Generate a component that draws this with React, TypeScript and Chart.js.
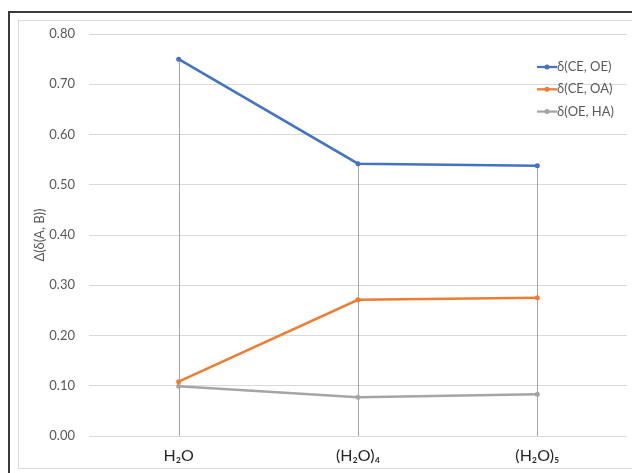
import React, { useEffect, useRef } from "react";
import { Chart, registerables } from "chart.js";

Chart.register(...registerables);

const categories = ["H\u2082O", "(H\u2082O)\u2084", "(H\u2082O)\u2085"];
const seriesNames = ["\u03b4(CE, OE)", "\u03b4(CE, OA)", "\u03b4(OE, HA)"];
const ceOe = [0.75, 0.542, 0.538];
const ceOa = [0.108, 0.271, 0.275];
const oeHa = [0.099, 0.077, 0.083];
const seriesColors = ["#4472C4", "#ED7D31", "#A5A5A5"];
const yTitle = "\u0394(\u03b4(A, B))";

const FONT = "Lato, 'Open Sans', sans-serif";

const framePlugin = {
  id: "frame",
  beforeDraw(chart: any) {
    const { ctx, width, height } = chart;
    ctx.save();
    ctx.fillStyle = "#ffffff";
    ctx.fillRect(0, 0, width, height);
    // outer dark border (left and top)
    ctx.strokeStyle = "#3a3a3a";
    ctx.lineWidth = 2;
    ctx.beginPath();
    ctx.moveTo(9, height);
    ctx.lineTo(9, 12);
    ctx.lineTo(width, 12);
    ctx.stroke();
    // light chart frame
    ctx.strokeStyle = "#d9d9d9";
    ctx.lineWidth = 1;
    ctx.strokeRect(18.5, 20.5, width + 10, 448);
    ctx.restore();
  },
};

const dropLinesPlugin = {
  id: "dropLines",
  beforeDatasetsDraw(chart: any) {
    const { ctx } = chart;
    const x = chart.scales.x;
    const y = chart.scales.y;
    ctx.save();
    ctx.strokeStyle = "#a6a6a6";
    ctx.lineWidth = 1;
    categories.forEach((_, i) => {
      const top = Math.max(ceOe[i], ceOa[i], oeHa[i]);
      const px = Math.round(x.getPixelForValue(i)) + 0.5;
      ctx.beginPath();
      ctx.moveTo(px, y.getPixelForValue(top));
      ctx.lineTo(px, y.getPixelForValue(0));
      ctx.stroke();
    });
    ctx.restore();
  },
};

const legendPlugin = {
  id: "sideLegend",
  afterDraw(chart: any) {
    const { ctx } = chart;
    ctx.save();
    ctx.font = `13px ${FONT}`;
    ctx.textBaseline = "middle";
    ctx.textAlign = "left";
    seriesNames.forEach((name, i) => {
      const cy = 67 + i * 22.3;
      ctx.strokeStyle = seriesColors[i];
      ctx.lineWidth = 2.25;
      ctx.beginPath();
      ctx.moveTo(537, cy);
      ctx.lineTo(557, cy);
      ctx.stroke();
      ctx.fillStyle = seriesColors[i];
      ctx.beginPath();
      ctx.arc(547, cy, 2.5, 0, Math.PI * 2);
      ctx.fill();
      ctx.fillStyle = "#595959";
      ctx.fillText(name, 557, cy);
    });
    ctx.restore();
  },
};

export default function App() {
  const ref = useRef<HTMLCanvasElement>(null);

  useEffect(() => {
    if (!ref.current) return;
    const data = [ceOe, ceOa, oeHa];
    const chart = new Chart(ref.current, {
      type: "line",
      data: {
        labels: categories,
        datasets: data.map((vals, i) => ({
          label: seriesNames[i],
          data: vals,
          borderColor: seriesColors[i],
          backgroundColor: seriesColors[i],
          borderWidth: 2.5,
          pointRadius: 2.5,
          pointBorderWidth: 0,
          tension: 0,
        })),
      },
      options: {
        responsive: false,
        animation: false,
        layout: { padding: { left: 18, top: 34, right: 5, bottom: 0 } },
        plugins: {
          legend: { display: false },
          tooltip: { enabled: false },
        },
        scales: {
          x: {
            offset: true,
            grid: { display: false },
            border: { display: false },
            ticks: {
              color: "#262626",
              font: { family: FONT, size: 16 },
              padding: 2,
            },
            afterFit(scale: any) {
              scale.height = 37;
            },
          },
          y: {
            min: 0,
            max: 0.8,
            grid: { color: "#d9d9d9", lineWidth: 1, drawTicks: false },
            border: { display: false },
            ticks: {
              stepSize: 0.1,
              color: "#595959",
              font: { family: FONT, size: 13 },
              padding: 14,
              callback: (v: any) => Number(v).toFixed(2),
            },
            title: {
              display: true,
              text: yTitle,
              color: "#595959",
              font: { family: FONT, size: 13 },
              padding: { top: 14, bottom: 0 },
            },
            afterFit(scale: any) {
              scale.width = 71;
            },
          },
        },
      },
      plugins: [framePlugin, dropLinesPlugin, legendPlugin],
    });
    return () => chart.destroy();
  }, []);

  return (
    <div style={{ position: "fixed", left: 0, top: 0, width: 632, height: 473 }}>
      <canvas ref={ref} width={632} height={473} />
    </div>
  );
}
